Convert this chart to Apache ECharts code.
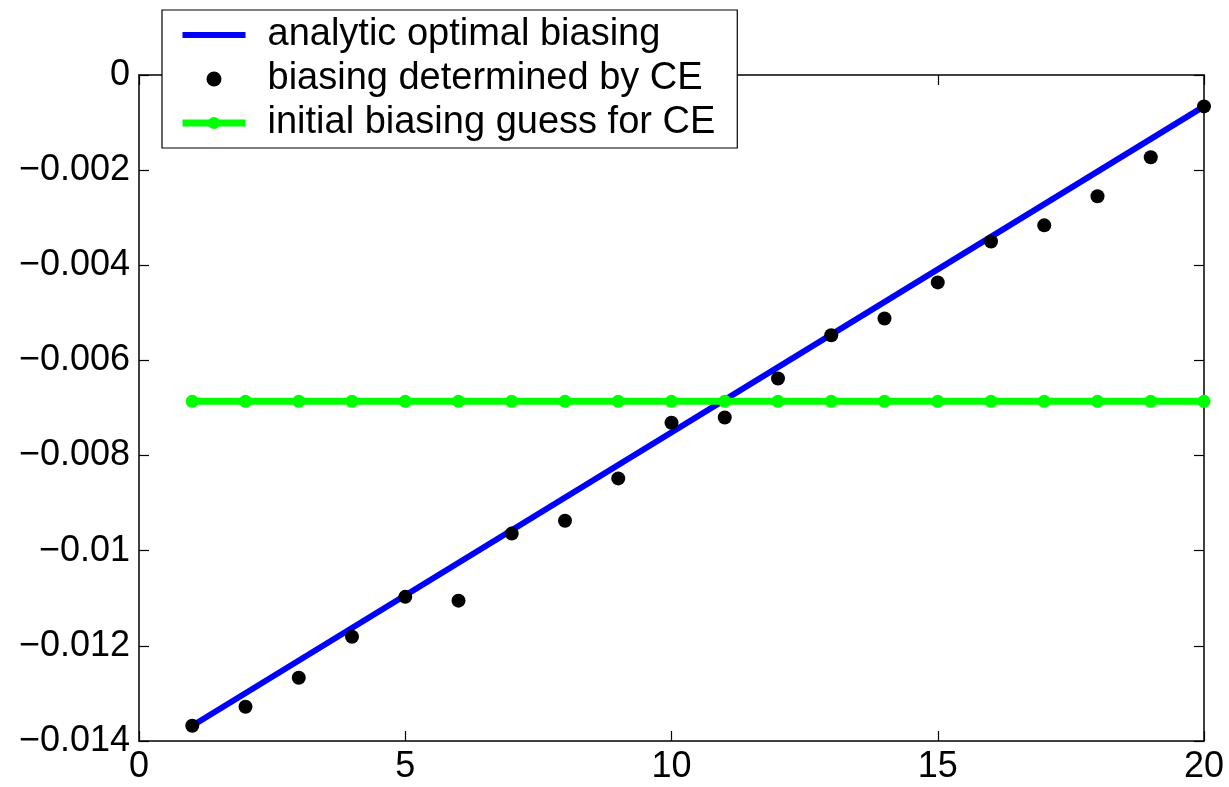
<!DOCTYPE html>
<html>
<head>
<meta charset="utf-8">
<script src="https://cdn.jsdelivr.net/npm/echarts@6/dist/echarts.min.js"></script>
<style>
  html, body { margin: 0; padding: 0; background: #fff; }
  #main { width: 1229px; height: 787px; }
</style>
</head>
<body>
<div id="main"></div>
<script>
// 数据
var xs = [1, 2, 3, 4, 5, 6, 7, 8, 9, 10, 11, 12, 13, 14, 15, 16, 17, 18, 19, 20];
var ceValues = [-0.01368, -0.01328, -0.01267, -0.01181, -0.01097, -0.01105, -0.00964, -0.00937, -0.00848, -0.00731,
  -0.00720, -0.00638, -0.00547, -0.00512, -0.00436, -0.00350, -0.00316, -0.00255, -0.00173, -0.00066];
var analyticX = [1, 20];
var analyticY = [-0.01368, -0.00066];
var initialGuess = [-0.00686, -0.00686, -0.00686, -0.00686, -0.00686, -0.00686, -0.00686, -0.00686, -0.00686, -0.00686,
  -0.00686, -0.00686, -0.00686, -0.00686, -0.00686, -0.00686, -0.00686, -0.00686, -0.00686, -0.00686];
var names = ['analytic optimal biasing', 'biasing determined by CE', 'initial biasing guess for CE'];

function pairs(a, b) {
  return a.map(function (v, i) { return [v, b[i]]; });
}

var font = 'Liberation Sans, Arial, Helvetica, sans-serif';
var axisLine = { show: true, onZero: false, lineStyle: { color: '#000', width: 1.5 } };
var tickIn = { show: true, inside: true, length: 10, lineStyle: { color: '#000', width: 1.2 } };

function yFmt(v) {
  var r = Math.round(v * 1000) / 1000;
  return r === 0 ? '0' : String(r).replace('-', '\u2212');
}

var myChart = echarts.init(document.getElementById('main'));
var option = {
  animation: false,
  backgroundColor: '#fff',
  textStyle: { fontFamily: font },
  grid: { left: 139, right: 25, top: 75, bottom: 46 },
  legend: {
    orient: 'vertical',
    left: 162,
    top: 10,
    data: [
      { name: names[0], lineStyle: { width: 6 }, itemStyle: { opacity: 0 } },
      { name: names[1] },
      { name: names[2], lineStyle: { width: 7 } }
    ],
    backgroundColor: '#fff',
    borderColor: '#000',
    borderWidth: 1.2,
    borderRadius: 0,
    padding: [3, 22, 3, 17],
    itemWidth: 63,
    itemHeight: 15,
    itemGap: 0,
    textStyle: { fontSize: 38, color: '#000', fontFamily: font, lineHeight: 44, padding: [0, 0, 0, 17] }
  },
  xAxis: [
    {
      type: 'value', position: 'bottom', min: 0, max: 20, interval: 5,
      axisLine: axisLine, axisTick: tickIn, splitLine: { show: false },
      axisLabel: { color: '#000', fontSize: 36, margin: 8, fontFamily: font }
    },
    {
      type: 'value', position: 'top', min: 0, max: 20, interval: 5,
      axisLine: axisLine, axisTick: tickIn, splitLine: { show: false },
      axisLabel: { show: false }
    }
  ],
  yAxis: [
    {
      type: 'value', position: 'left', min: -0.014, max: 0, interval: 0.002,
      axisLine: axisLine, axisTick: tickIn, splitLine: { show: false },
      axisLabel: { color: '#000', fontSize: 36, margin: 9, fontFamily: font, formatter: yFmt }
    },
    {
      type: 'value', position: 'right', min: -0.014, max: 0, interval: 0.002,
      axisLine: axisLine, axisTick: tickIn, splitLine: { show: false },
      axisLabel: { show: false }
    }
  ],
  series: [
    {
      name: names[0],
      type: 'line',
      data: pairs(analyticX, analyticY),
      symbol: 'none',
      lineStyle: { color: '#0000ff', width: 6 },
      itemStyle: { color: '#0000ff' },
      z: 2
    },
    {
      name: names[1],
      type: 'scatter',
      data: pairs(xs, ceValues),
      symbol: 'circle',
      symbolSize: 14,
      itemStyle: { color: '#000', opacity: 1 },
      z: 3
    },
    {
      name: names[2],
      type: 'line',
      data: pairs(xs, initialGuess),
      symbol: 'circle',
      symbolSize: 13,
      showAllSymbol: true,
      lineStyle: { color: '#00ff00', width: 7 },
      itemStyle: { color: '#00ff00', borderWidth: 0 },
      z: 4
    }
  ]
};
myChart.setOption(option);
</script>
</body>
</html>
